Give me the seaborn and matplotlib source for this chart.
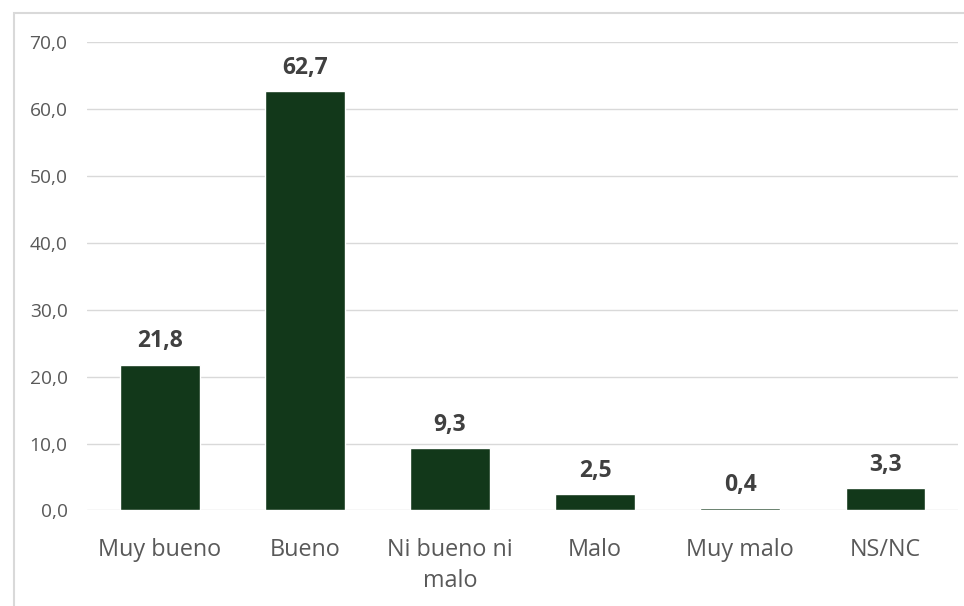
import matplotlib
matplotlib.use("Agg")
import matplotlib.pyplot as plt
import seaborn as sns
import pandas as pd
from matplotlib.patches import Rectangle
from matplotlib.ticker import FuncFormatter

categories = ["Muy bueno", "Bueno", "Ni bueno ni\nmalo", "Malo", "Muy malo", "NS/NC"]
values = [21.8, 62.7, 9.3, 2.5, 0.4, 3.3]
yticks = [0, 10, 20, 30, 40, 50, 60, 70]

sns.set_theme(style="white")
plt.rcParams['font.family'] = ['Open Sans', 'DejaVu Sans']

df = pd.DataFrame({"cat": categories, "val": values})

fig = plt.figure(figsize=(9.64, 6.06), dpi=100)
ax = fig.add_axes([0.0903, 0.1578, 0.9938 - 0.0903, 0.9302 - 0.1578])

sns.barplot(data=df, x="cat", y="val", color="#12381A", saturation=1,
            width=0.55, ax=ax, zorder=3)

ax.set_ylim(0, 70)
ax.set_xlim(-0.5, len(categories) - 0.5)
ax.set_yticks(yticks)
ax.yaxis.set_major_formatter(FuncFormatter(lambda v, p: f"{v:.1f}".replace(".", ",")))
ax.grid(axis="y", color="#D9D9D9", linewidth=1.0, zorder=0)
ax.set_axisbelow(True)
for s in ax.spines.values():
    s.set_visible(False)
ax.set_xlabel("")
ax.set_ylabel("")
ax.tick_params(axis="y", length=0, pad=14, labelsize=13.8, labelcolor="#595959")
ax.tick_params(axis="x", length=0, pad=20, labelsize=16.8, labelcolor="#595959")
for t in ax.get_xticklabels():
    t.set_linespacing(1.4)

for i, v in enumerate(values):
    ax.annotate(f"{v:.1f}".replace(".", ","), (i, v), xytext=(0, 8),
                textcoords="offset points", ha="center", va="bottom",
                fontsize=16.5, fontweight="bold", color="#404040")

fig.patches.append(Rectangle((14 / 964, -0.1), 1.2, 1 - 13 / 606 + 0.1,
                             transform=fig.transFigure, fill=False,
                             edgecolor="#D9D9D9", linewidth=1.5, zorder=0))

fig.savefig("out.png", dpi=100, facecolor="white")
